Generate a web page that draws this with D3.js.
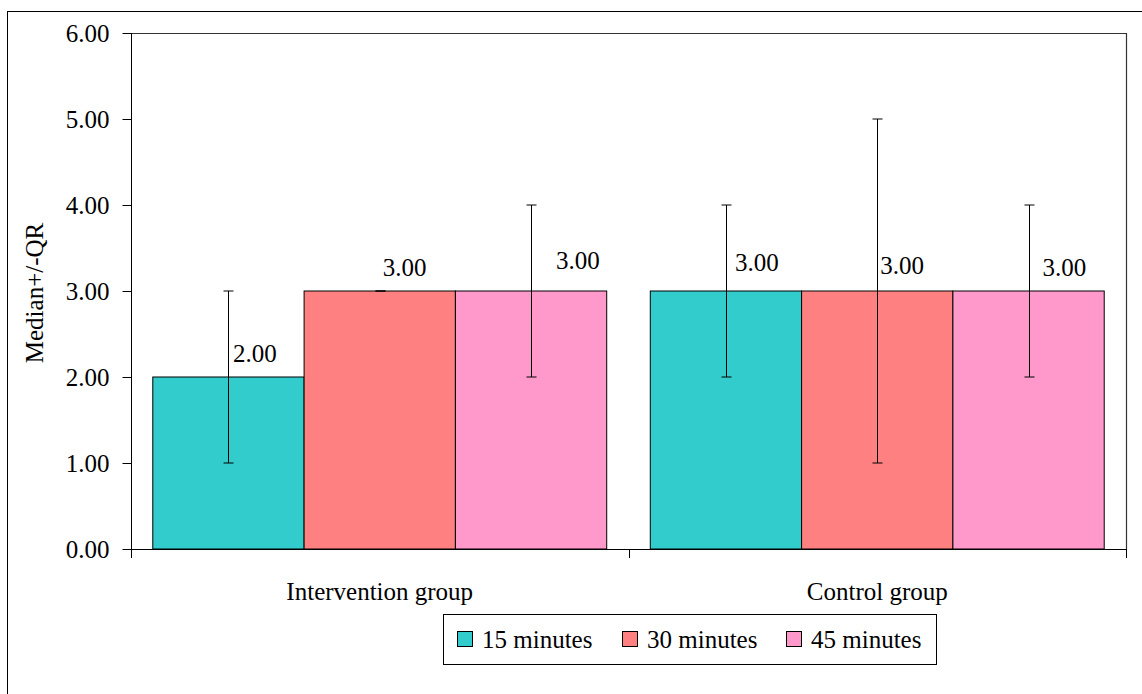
<!DOCTYPE html>
<html>
<head>
<meta charset="utf-8">
<script src="https://cdn.jsdelivr.net/npm/d3@7/dist/d3.min.js"></script>
<style>
  html, body { margin: 0; padding: 0; background: #fff; }
  svg { display: block; }
</style>
</head>
<body>
<svg id="chart" width="1142" height="694"></svg>
<script>
// ---- data ----
const categories = ["Intervention group", "Control group"];
const seriesNames = ["15 minutes", "30 minutes", "45 minutes"];
const medians = [[2, 3], [3, 3], [3, 3]];      // [series][category]
const lowQ    = [[1, 2], [3, 1], [2, 2]];
const highQ   = [[3, 4], [3, 5], [4, 4]];
const yTicks  = [0, 1, 2, 3, 4, 5, 6];
const colors  = ["#33CCCC", "#FF8080", "#FF99CC"];
// manual data-label nudges [series][category] -> [dx, dy] (layout only)
const labelNudge = [[[4.5, -15], [9, -20]], [[3, -15], [3, -17]], [[25, -22], [14, -15]]];

const svg = d3.select("#chart");
const FONT = 25;
const FAMILY = "\"Liberation Serif\", \"Times New Roman\", serif";

const plot = { left: 131, right: 1126, top: 33, bottom: 549 };

// outer frame
svg.append("rect")
  .attr("x", 7.5).attr("y", 11.5).attr("width", 1300).attr("height", 900)
  .attr("fill", "none").attr("stroke", "#000").attr("stroke-width", 1);

const x0 = d3.scaleBand().domain(categories).range([plot.left, plot.right]).paddingInner(0).paddingOuter(0);
const x1 = d3.scaleBand().domain(seriesNames).range([0, x0.bandwidth()]).paddingInner(0).paddingOuter(0.144);
const y = d3.scaleLinear().domain([0, 6]).range([plot.bottom, plot.top]);

// plot area border (top and right)
svg.append("path")
  .attr("d", `M${plot.left},${plot.top + 0.5}H${plot.right + 0.5}V${plot.bottom}`)
  .attr("fill", "none").attr("stroke", "#333").attr("stroke-width", 1.2);

// bars
const flat = [];
seriesNames.forEach((s, si) => categories.forEach((c, ci) => {
  flat.push({ s, si, c, ci, v: medians[si][ci], lo: lowQ[si][ci], hi: highQ[si][ci] });
}));

svg.append("g").selectAll("rect").data(flat).join("rect")
  .attr("x", d => x0(d.c) + x1(d.s))
  .attr("y", d => y(d.v))
  .attr("width", x1.bandwidth())
  .attr("height", d => y(0) - y(d.v))
  .attr("fill", d => colors[d.si])
  .attr("stroke", "#000").attr("stroke-width", 1);

// error bars
const eb = svg.append("g").attr("stroke", "#000").attr("stroke-width", 1);
flat.forEach(d => {
  const cx = Math.round(x0(d.c) + x1(d.s) + x1.bandwidth() / 2) + 0.5;
  eb.append("line").attr("x1", cx).attr("x2", cx).attr("y1", y(d.lo)).attr("y2", y(d.hi));
  eb.append("line").attr("x1", cx - 5).attr("x2", cx + 5).attr("y1", y(d.lo)).attr("y2", y(d.lo));
  eb.append("line").attr("x1", cx - 5).attr("x2", cx + 5).attr("y1", y(d.hi)).attr("y2", y(d.hi));
});

// data labels
svg.append("g").selectAll("text").data(flat).join("text")
  .attr("x", d => x0(d.c) + x1(d.s) + x1.bandwidth() / 2 + labelNudge[d.si][d.ci][0])
  .attr("y", d => y(d.v) + labelNudge[d.si][d.ci][1])
  .style("font-size", FONT + "px").style("font-family", FAMILY).attr("fill", "#000")
  .text(d => d3.format(".2f")(d.v));

// y axis
const yAxis = d3.axisLeft(y).tickValues(yTicks).tickFormat(d3.format(".2f")).tickSize(9).tickPadding(13);
const gy = svg.append("g").attr("transform", `translate(${plot.left + 0.5},0)`).call(yAxis);
gy.select(".domain").attr("stroke", "#000").attr("d", `M0,${plot.top}V${plot.bottom}`);
gy.selectAll("text").attr("fill", "#000").style("font-size", FONT + "px").style("font-family", FAMILY);
gy.selectAll("line").attr("stroke", "#000");

// x axis
const xBounds = [plot.left, x0(categories[1]), plot.right];
const gx = svg.append("g").attr("stroke", "#000");
gx.append("line").attr("x1", plot.left).attr("x2", plot.right).attr("y1", plot.bottom + 0.5).attr("y2", plot.bottom + 0.5);
xBounds.forEach(b => {
  const xb = Math.round(b) + 0.5;
  gx.append("line").attr("x1", xb).attr("x2", xb).attr("y1", plot.bottom).attr("y2", plot.bottom + 9);
});
svg.append("g").selectAll("text").data(categories).join("text")
  .attr("x", c => x0(c) + x0.bandwidth() / 2)
  .attr("y", 600)
  .attr("text-anchor", "middle")
  .style("font-size", FONT + "px").style("font-family", FAMILY)
  .text(c => c);

// y label
svg.append("text")
  .attr("transform", `translate(43,${(plot.top + plot.bottom) / 2 + 2}) rotate(-90)`)
  .attr("text-anchor", "middle")
  .style("font-size", FONT + "px").style("font-family", FAMILY)
  .text("Median+/-QR");

// legend
const lg = svg.append("g");
lg.append("rect").attr("x", 443.5).attr("y", 614.5).attr("width", 493).attr("height", 50)
  .attr("fill", "#fff").attr("stroke", "#000").attr("stroke-width", 1);
const legX = [457, 622, 786];
seriesNames.forEach((s, i) => {
  lg.append("rect").attr("x", legX[i] + 0.5).attr("y", 631.5).attr("width", 15).attr("height", 15)
    .attr("fill", colors[i]).attr("stroke", "#000").attr("stroke-width", 1);
  lg.append("text").attr("x", legX[i] + 25).attr("y", 648)
    .style("font-size", FONT + "px").style("font-family", FAMILY).text(s);
});
</script>
</body>
</html>
